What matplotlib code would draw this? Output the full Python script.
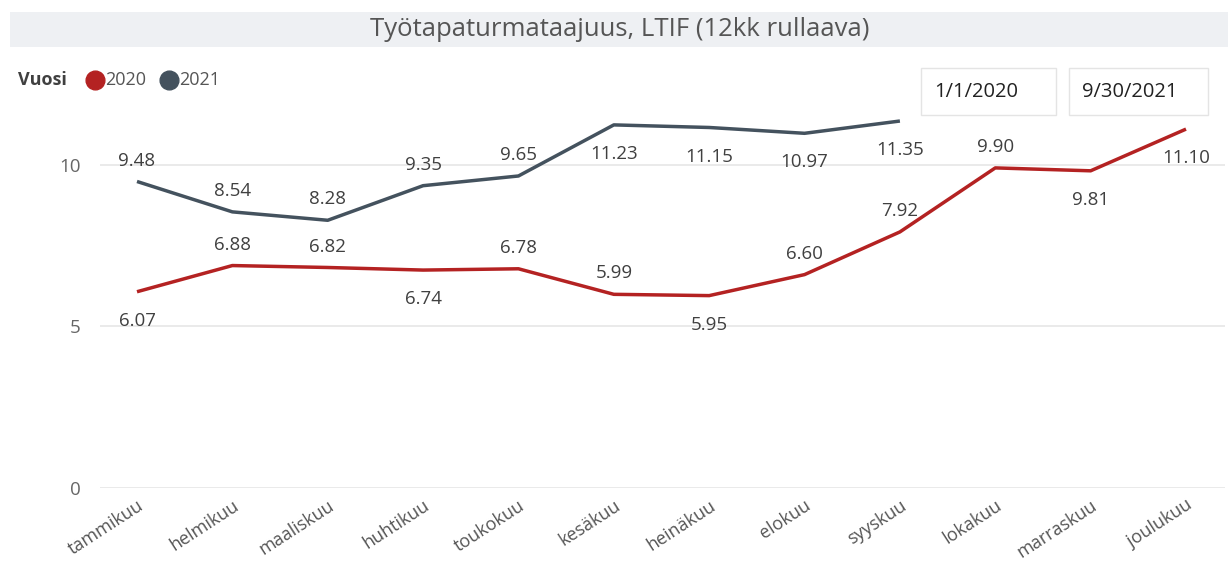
import matplotlib
matplotlib.use("Agg")
import matplotlib.pyplot as plt
from matplotlib.patches import Rectangle
from matplotlib.lines import Line2D

months = ["tammikuu", "helmikuu", "maaliskuu", "huhtikuu", "toukokuu", "kesäkuu",
          "heinäkuu", "elokuu", "syyskuu", "lokakuu", "marraskuu", "joulukuu"]
v2020 = [6.07, 6.88, 6.82, 6.74, 6.78, 5.99, 5.95, 6.60, 7.92, 9.90, 9.81, 11.10]
v2021 = [9.48, 8.54, 8.28, 9.35, 9.65, 11.23, 11.15, 10.97, 11.35]
pos2020 = ["below", "above", "above", "below", "above", "above", "below", "above", "above", "above", "below", "below"]
pos2021 = ["above", "above", "above", "above", "above", "below", "below", "below", "below"]
yticks = [0, 5, 10]

c2020 = "#B42222"
c2021 = "#44525E"
txt = "#404040"
plt.rcParams['font.family'] = ['Open Sans', 'DejaVu Sans']

W, H = 1228, 561
fig = plt.figure(figsize=(W / 100, H / 100), dpi=100)

def fx(px): return px / W
def fy(py): return 1 - py / H

# title bar
fig.patches.append(Rectangle((fx(10), fy(47)), fx(1228) - fx(10), fy(12) - fy(47),
                             transform=fig.transFigure, facecolor="#EEF0F3", edgecolor="none", zorder=0))
fig.text(fx(620), fy(30), "Työtapaturmataajuus, LTIF (12kk rullaava)", ha="center", va="center",
         fontsize=18.5, color="#555555")

# legend
fig.text(fx(18), fy(80), "Vuosi", fontsize=13, fontweight="bold", color="#404040", va="center")
fig.add_artist(Line2D([fx(94.5)], [fy(80)], marker="o", markersize=13.5, color=c2020,
                      transform=fig.transFigure))
fig.text(fx(105), fy(80), "2020", fontsize=13, color="#555555", va="center")
fig.add_artist(Line2D([fx(169)], [fy(80)], marker="o", markersize=13.5, color=c2021,
                      transform=fig.transFigure))
fig.text(fx(179), fy(80), "2021", fontsize=13, color="#555555", va="center")

# date boxes
for x0, x1, s in [(921, 1056, "1/1/2020"), (1069, 1208, "9/30/2021")]:
    fig.patches.append(Rectangle((fx(x0), fy(115)), fx(x1) - fx(x0), fy(68) - fy(115),
                                 transform=fig.transFigure, facecolor="white", edgecolor="#E4E4E4", lw=1))
    fig.text(fx(x0 + 13), fy(92), s, fontsize=14.5, color="#222222", va="center")

ax = fig.add_axes([fx(100), fy(488), fx(1225) - fx(100), fy(100) - fy(488)])
x = list(range(len(months)))
step = (1186 - 137) / 11
left = (137 - 100) / step
right = (1225 - 1186) / step
ax.set_xlim(-left, 11 + right)
ax.set_ylim(0, 12)
ax.plot(x, v2020, color=c2020, lw=2.5, solid_capstyle="butt", zorder=3)
ax.plot(x[:len(v2021)], v2021, color=c2021, lw=2.5, solid_capstyle="butt", zorder=3)

for xs, vals, poss in [(x, v2020, pos2020), (x[:len(v2021)], v2021, pos2021)]:
    for xi, v, p in zip(xs, vals, poss):
        dy = 15 if p == "above" else -21
        ax.annotate(f"{v:.2f}", (xi, v), xytext=(0, dy), textcoords="offset points",
                    ha="center", va="center", fontsize=13.5, color=txt, zorder=4)

ax.set_yticks(yticks)
ax.set_yticklabels([str(t) for t in yticks], fontsize=13.5, color="#666666")
ax.yaxis.grid(True, color="#E6E6E6", lw=1.2)
ax.set_axisbelow(True)
ax.tick_params(axis="y", length=0, pad=14)
ax.set_xticks(x)
ax.set_xticklabels(months, rotation=33, ha="right", rotation_mode="anchor",
                   fontsize=13, color="#555555")
ax.tick_params(axis="x", length=0, pad=6)
for s in ax.spines.values():
    s.set_visible(False)

fig.savefig("out.png", dpi=100)
